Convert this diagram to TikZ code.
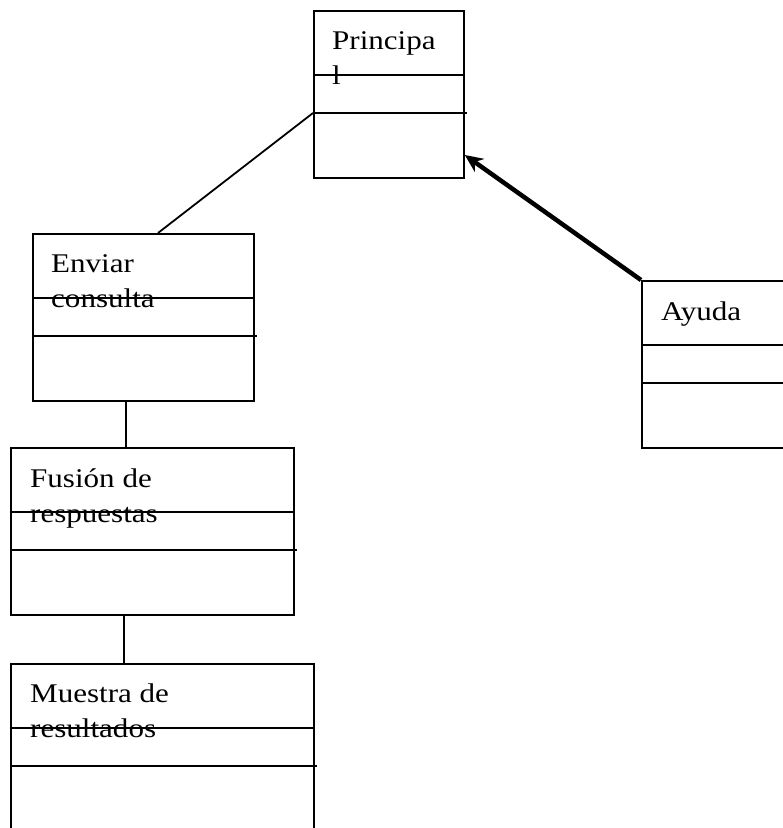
\documentclass[tikz,border=0pt]{standalone}
\usepackage{fontspec}
\setmainfont{Liberation Serif}[FakeStretch=1.15]
\usetikzlibrary{arrows.meta}
\tikzset{
  classbox/.style={rectangle, draw, line width=1.8pt, inner sep=0pt, anchor=north west, minimum height=167pt},
  classtext/.style={anchor=base west, inner sep=0pt, align=left, font=\fontsize{27}{35}\selectfont},
  link/.style={line width=1.8pt},
  arrow/.style={-{Stealth[length=18pt,width=16pt]}, line width=4.5pt},
}

\begin{document}
\begin{tikzpicture}[x=1pt, y=-1pt]
    \useasboundingbox (0,0) rectangle (783,828);
    \clip (0,0) rectangle (783,828);
    % classes
    \node[classbox, minimum width=150pt] (principal) at (313,10) {};
    \node[classbox, minimum width=221pt] (enviar) at (32,233) {};
    \node[classbox, minimum width=160pt] (ayuda) at (641,280) {};
    \node[classbox, minimum width=283pt] (fusion) at (10,447) {};
    \node[classbox, minimum width=303pt, minimum height=180pt] (muestra) at (10,663) {};
    \foreach \n in {principal, enviar, ayuda, fusion, muestra} {
      \draw[link] ([yshift=-65pt]\n.north west) -- ([yshift=-65pt]\n.north east);
      \draw[link] ([yshift=-103pt]\n.north west) -- ([yshift=-103pt, xshift=2.5pt]\n.north east);
    }
    % names (base = last line)
    \node[classtext] (principal-txt) at (332,84) {Principa\\l};
    \node[classtext] (enviar-txt) at (51,307) {Enviar\\consulta};
    \node[classtext] (ayuda-txt) at (661,320) {Ayuda};
    \node[classtext] (fusion-txt) at (30,522) {Fusión de\\respuestas};
    \node[classtext] (muestra-txt) at (30,737) {Muestra de\\resultados};
    % links
    \draw[link] ([yshift=-103pt]principal.north west) -- ([xshift=126pt]enviar.north west);
    \draw[arrow] (ayuda.north west) -- ([yshift=-145pt]principal.north east);
    \draw[link] ([xshift=94pt]enviar.south west) -- ([xshift=116pt]fusion.north west);
    \draw[link] ([xshift=114pt]fusion.south west) -- ([xshift=114pt]muestra.north west);
\end{tikzpicture}
\end{document}
